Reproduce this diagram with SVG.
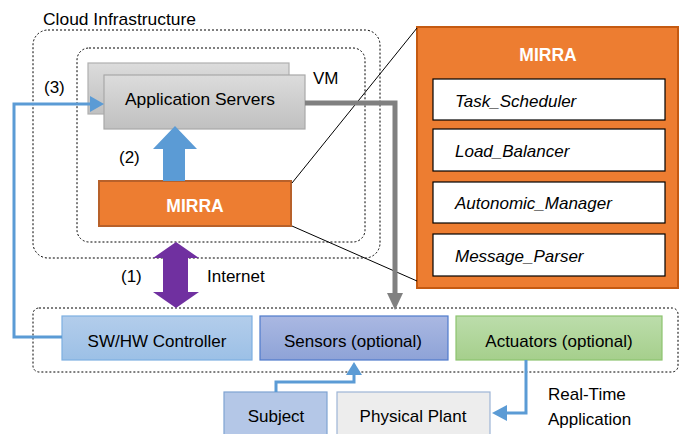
<svg xmlns="http://www.w3.org/2000/svg" width="680" height="434" viewBox="0 0 680 434">
<defs>
<linearGradient id="gGray" x1="0" y1="0" x2="0" y2="1"><stop offset="0" stop-color="#DCDCDC"/><stop offset="1" stop-color="#C0C0C0"/></linearGradient>
<linearGradient id="gCtrl" x1="0" y1="0" x2="0" y2="1"><stop offset="0" stop-color="#B3CDEB"/><stop offset="1" stop-color="#9CC0E6"/></linearGradient>
<linearGradient id="gSens" x1="0" y1="0" x2="0" y2="1"><stop offset="0" stop-color="#AAB8E2"/><stop offset="1" stop-color="#8EA3D7"/></linearGradient>
<linearGradient id="gAct" x1="0" y1="0" x2="0" y2="1"><stop offset="0" stop-color="#BCDDAB"/><stop offset="1" stop-color="#A6CF8C"/></linearGradient>
</defs>
<style>
text{font-family:"Liberation Sans",Arial,sans-serif;fill:#000;}
.t{font-size:17px;}
.c{text-anchor:middle;}
.it{font-size:17px;font-style:italic;}
.wb{fill:#fff;font-weight:bold;font-size:17.5px;text-anchor:middle;}
.dash{fill:none;stroke:#000;stroke-width:1;stroke-dasharray:2 2;}
.blue{fill:none;stroke:#5B9BD5;stroke-width:3;}
.blueh{fill:#5B9BD5;}
.inner{fill:#fff;stroke:#000;stroke-width:1.2;}
</style>

<g id="cloud">
<rect class="dash" x="33" y="30" width="347" height="228" rx="15"/>
<text class="t" x="43" y="25" textLength="153" lengthAdjust="spacingAndGlyphs">Cloud Infrastructure</text>
</g>
<g id="vm">
<rect class="dash" x="77" y="48" width="288" height="194" rx="12"/>
<text class="t" x="313" y="84">VM</text>
</g>
<g id="app-servers">
<rect x="88" y="63" width="201" height="51" fill="url(#gGray)" stroke="#B0B0B0" stroke-width="1.2"/>
<rect x="104" y="75" width="201" height="54" fill="url(#gGray)" stroke="#A8A8A8" stroke-width="1.2"/>
<text class="t" x="125" y="105" textLength="150" lengthAdjust="spacingAndGlyphs" font-size="17.5">Application Servers</text>
</g>
<g id="mirra">
<rect x="99" y="181" width="192" height="45" fill="#ED7D31" stroke="#B8612A" stroke-width="2"/>
<text class="wb" x="195" y="212">MIRRA</text>
</g>
<g id="mirra-detail">
<rect x="417" y="27" width="261" height="261" fill="#ED7D31" stroke="#C55A11" stroke-width="2"/>
<text class="wb" x="548" y="61">MIRRA</text>
<rect class="inner" x="433" y="79" width="232" height="41"/>
<text class="it" x="455" y="107">Task_Scheduler</text>
<rect class="inner" x="433" y="129" width="232" height="42"/>
<text class="it" x="455" y="157">Load_Balancer</text>
<rect class="inner" x="433" y="182" width="232" height="41"/>
<text class="it" x="455" y="209">Autonomic_Manager</text>
<rect class="inner" x="433" y="234" width="232" height="42"/>
<text class="it" x="455" y="262">Message_Parser</text>
</g>
<g id="devices">
<rect class="dash" x="33" y="308" width="645" height="64" rx="6"/>
</g>
<g id="controller">
<rect x="62" y="316" width="190" height="44" fill="url(#gCtrl)" stroke="#7DB0E2" stroke-width="1.2"/>
<text class="t c" x="157" y="347">SW/HW Controller</text>
</g>
<g id="sensors">
<rect x="260" y="316" width="188" height="44" fill="url(#gSens)" stroke="#4F7BCB" stroke-width="1.2"/>
<text class="t c" x="353" y="347">Sensors (optional)</text>
</g>
<g id="actuators">
<rect x="456" y="316" width="206" height="44" fill="url(#gAct)" stroke="#8DC46F" stroke-width="1.2"/>
<text class="t c" x="559" y="347">Actuators (optional)</text>
</g>
<g id="subject">
<rect x="224" y="392" width="103" height="50" fill="#B4C7E7" stroke="#7FA3D3" stroke-width="1.2"/>
<text class="t c" x="276" y="422">Subject</text>
</g>
<g id="plant">
<rect x="337" y="392" width="153" height="50" fill="#EDEDED" stroke="#9DB5D6" stroke-width="1.2"/>
<text class="t c" x="413" y="422">Physical Plant</text>
</g>

<g id="connectors">
<line x1="292" y1="183" x2="417" y2="28" stroke="#000" stroke-width="1"/>
<line x1="292" y1="226" x2="417" y2="281" stroke="#000" stroke-width="1"/>
<polyline points="305,103 395,103 395,294" fill="none" stroke="#808080" stroke-width="5"/>
<polygon points="387,293 403,293 395,310" fill="#808080"/>
<polyline class="blue" points="62,337 14,337 14,104 92,104"/>
<polygon class="blueh" points="90,96 104,104 90,112"/>
<polygon class="blueh" points="175,126 197,149 185,149 185,181 163,181 163,149 153,149"/>
<polygon fill="#7030A0" points="176,242 199,258 188,258 188,292 199,292 176,308 153,292 163,292 163,258 153,258"/>
<polyline class="blue" points="276,392 276,382 354,382 354,374"/>
<polygon class="blueh" points="346,375 354,362 362,375"/>
<polyline class="blue" points="526,360 526,413 506,413"/>
<polygon class="blueh" points="507,405 492,413 507,421"/>
<text class="t" x="44" y="93">(3)</text>
<text class="t" x="119" y="163">(2)</text>
<text class="t" x="121" y="282">(1)</text>
<text class="t" x="207" y="282">Internet</text>
<text class="t" x="548" y="400">Real-Time</text>
<text class="t" x="548" y="425">Application</text>
</g>
</svg>
